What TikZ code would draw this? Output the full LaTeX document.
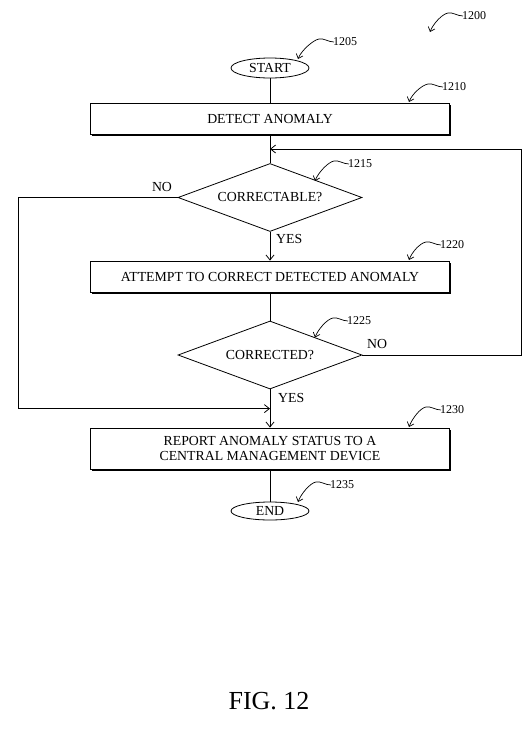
\documentclass[tikz,border=0pt]{standalone}
\usepackage{fontspec}
\setmainfont{Liberation Serif}
\usetikzlibrary{shapes.geometric,arrows.meta,shadows}
\begin{document}
\begin{tikzpicture}[x=1pt,y=1pt,
  flow/.style={line width=0.8pt},
  flowarrow/.style={line width=0.8pt,-{Straight Barb[length=5pt,width=8pt]}},
  box/.style={draw,fill=white,line width=0.8pt,minimum width=359,inner sep=0,
    font=\fontsize{13.8}{15.8}\selectfont,align=center,
    drop shadow={shadow xshift=1.8pt,shadow yshift=-1.8pt,fill=black,opacity=1}},
  term/.style={draw,ellipse,line width=0.8pt,minimum width=78,inner sep=0,font=\fontsize{13.8}{15.8}\selectfont},
  decision/.style={draw,diamond,line width=0.8pt,minimum width=184,minimum height=68,inner sep=0,aspect=2.7,font=\fontsize{13.8}{15.8}\selectfont},
  lbl/.style={font=\fontsize{13.8}{15.8}\selectfont,inner sep=0},
  refnum/.style={font=\fontsize{12}{14}\selectfont,inner sep=0,anchor=west},
  refline/.style={line width=0.7pt,-{Straight Barb[length=4pt,width=7pt]}}
]
\useasboundingbox (0,0) rectangle (531,-750);

% nodes
\node[term,minimum height=20] (start) at (270,-68) {START};
\node[box,minimum height=31] (detect) at (270,-118.5) {DETECT ANOMALY};
\node[decision] (d1) at (270,-197.5) {CORRECTABLE?};
\node[box,minimum height=31] (attempt) at (270,-276.5) {ATTEMPT TO CORRECT DETECTED ANOMALY};
\node[decision] (d2) at (270,-355) {CORRECTED?};
\node[box,minimum height=41] (report) at (270,-448.5) {REPORT ANOMALY STATUS TO A\\CENTRAL MANAGEMENT DEVICE};
\node[term,minimum height=18] (end) at (270,-511) {END};
\node[font=\fontsize{26}{30}\selectfont,inner sep=0] (fig) at (269,-701) {FIG. 12};

\coordinate (loopjoin) at (270,-149);
\coordinate (nojoin) at (270,-408.6);
\coordinate (rightc) at (521,-355);
\coordinate (leftc) at (18,-197.5);

% connectors
\draw[flow] (start) -- (detect);
\draw[flow] (detect) -- (d1);
\draw[flowarrow] (d1) -- (attempt);
\draw[flow] (attempt) -- (d2);
\draw[flowarrow] (d2) -- (report);
\draw[flow] (report) -- (end);
\draw[flowarrow] (d2.east) -- (rightc) |- (loopjoin);
\draw[flowarrow] (d1.west) -- (leftc) |- (nojoin);

% labels
\node[lbl] (no1) at (162,-187) {NO};
\node[lbl,anchor=west] (yes1) at (276,-239) {YES};
\node[lbl,anchor=west] (no2) at (367,-344) {NO};
\node[lbl,anchor=west] (yes2) at (278,-398) {YES};

% reference numerals
\node[refnum] (r1200) at (462,-16) {1200};
\node[refnum] (r1205) at (333,-42) {1205};
\node[refnum] (r1210) at (442,-87) {1210};
\node[refnum] (r1215) at (348,-164) {1215};
\node[refnum] (r1220) at (440,-245) {1220};
\node[refnum] (r1225) at (347,-321) {1225};
\node[refnum] (r1230) at (440,-410) {1230};
\node[refnum] (r1235) at (330,-485) {1235};
\coordinate (t1200) at (430,-32);
\coordinate (t1205) at (298,-59);
\coordinate (t1210) at (409,-102);
\coordinate (t1215) at (315,-181);
\coordinate (t1220) at (409,-260);
\coordinate (t1225) at (315,-337.5);
\coordinate (t1230) at (409,-427);
\coordinate (t1235) at (298,-502);
\foreach \n in {1200,1205,1210,1215,1220,1225,1230,1235}{
  \draw[refline] ([xshift=1pt]r\n.west) .. controls +(-6,0) and +(5,1) .. ([shift={(-14,3)}]r\n.west)
     .. controls +(-6,-1) and +(3,8) .. (t\n);
}
\end{tikzpicture}
\end{document}
